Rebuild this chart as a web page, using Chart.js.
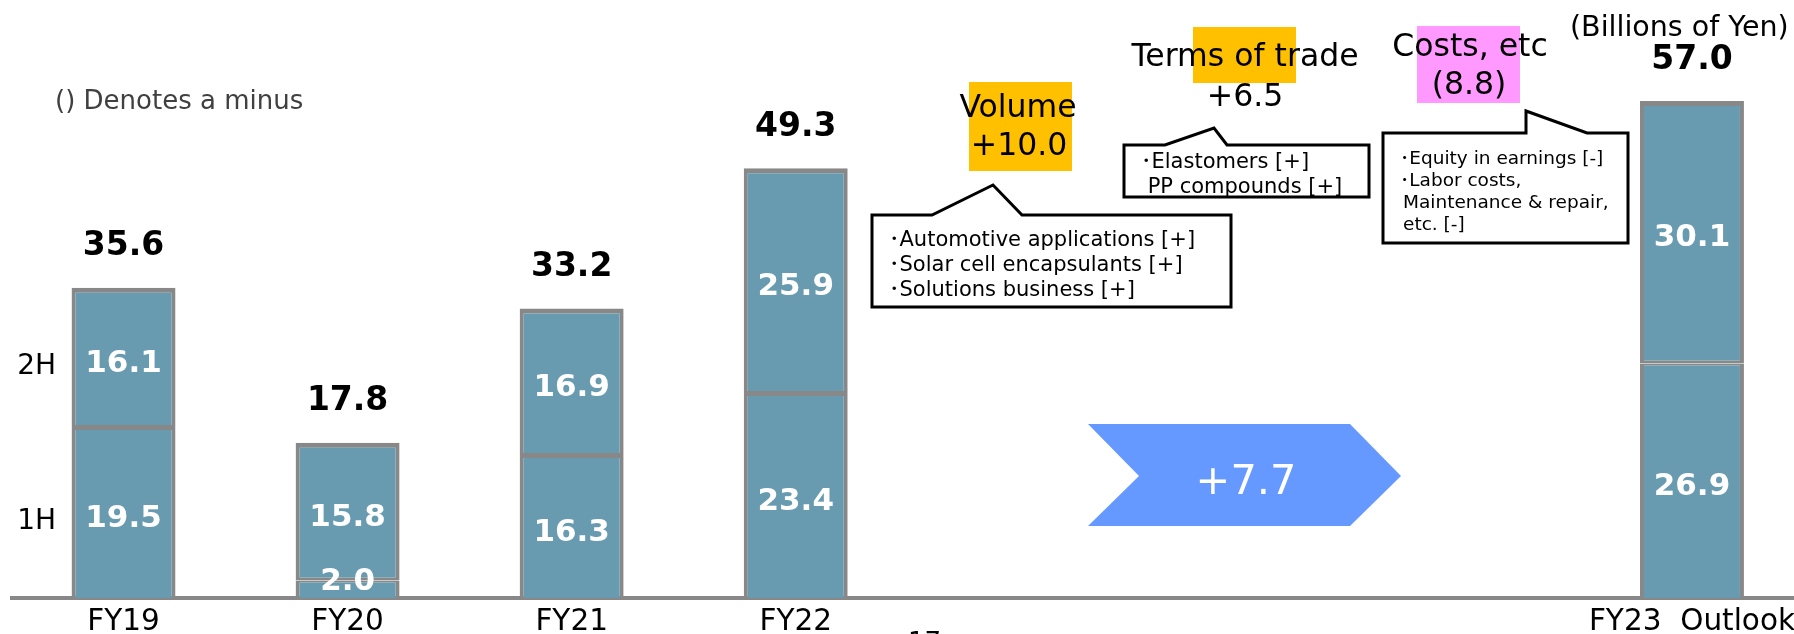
<!DOCTYPE html>
<html>
<head>
<meta charset="utf-8">
<script src="https://cdn.jsdelivr.net/npm/chart.js@4.4.0/dist/chart.umd.min.js"></script>
<style>
  html, body { margin: 0; padding: 0; background: #fff; overflow: hidden; }
  #wrap { width: 1804px; height: 634px; }
</style>
</head>
<body>
<div id="wrap"><canvas id="myChart" width="1804" height="634"></canvas></div>
<script>
// Data (billions of yen)
const categories = ['FY19', 'FY20', 'FY21', 'FY22', '', '', '', 'FY23  Outlook'];
const firstHalf = [19.5, 2.0, 16.3, 23.4, null, null, null, 26.9];
const secondHalf = [16.1, 15.8, 16.9, 25.9, null, null, null, 30.1];
const totals = [35.6, 17.8, 33.2, 49.3, null, null, null, 57.0];
const halfLabels = ['1H', '2H'];

// Bridge factors FY22 -> FY23
const bridgeNames = ['Volume', 'Terms of trade', 'Costs, etc'];
const bridgeValues = ['+10.0', '+6.5', '(8.8)'];
const bridgeTotal = '+7.7';
const volumeNotes = ['\uFF65Automotive applications [+]', '\uFF65Solar cell encapsulants [+]', '\uFF65Solutions business [+]'];
const termsNotes = ['\uFF65Elastomers [+]', ' PP compounds [+]'];
const costNotes = ['\uFF65Equity in earnings [-]', '\uFF65Labor costs,', 'Maintenance & repair,', 'etc. [-]'];

const FONT = '"DejaVu Sans", "Noto Sans CJK JP", sans-serif';
const barFill = '#689BB0';
const barEdge = '#888888';

const ctx = document.getElementById('myChart').getContext('2d');

// helper: callout box with a pointer on the top edge
function callout(c, box, pointer) {
    c.save();
    c.beginPath();
    c.moveTo(box.l, box.t);
    c.lineTo(pointer[0][0], box.t);
    c.lineTo(pointer[1][0], pointer[1][1]);
    c.lineTo(pointer[2][0], box.t);
    c.lineTo(box.r, box.t);
    c.lineTo(box.r, box.b);
    c.lineTo(box.l, box.b);
    c.closePath();
    c.fillStyle = '#fff';
    c.fill();
    c.lineWidth = 3;
    c.strokeStyle = '#000';
    c.lineJoin = 'miter';
    c.stroke();
    c.restore();
}

function textLines(c, lines, x, y0, step, size) {
    c.font = size + 'px ' + FONT;
    c.fillStyle = '#000';
    c.textAlign = 'left';
    c.textBaseline = 'alphabetic';
    lines.forEach((t, i) => c.fillText(t, x, y0 + i * step));
}

const labelPlugin = {
    id: 'labels',
    afterDatasetsDraw(chart) {
        const c = chart.ctx;
        const m1 = chart.getDatasetMeta(0);
        const m2 = chart.getDatasetMeta(1);
        c.save();
        c.textAlign = 'center';
        c.textBaseline = 'middle';
        categories.forEach((cat, i) => {
            if (firstHalf[i] == null) return;
            const b1 = m1.data[i], b2 = m2.data[i];
            c.font = 'bold 31px ' + FONT;
            c.fillStyle = '#fff';
            // 1H
            let y1 = (b1.y + b1.base) / 2 + 6;
            if (b1.base - b1.y < 40) y1 = b1.y + 1;
            c.fillText(firstHalf[i].toFixed(1), b1.x, y1);
            // 2H
            c.fillText(secondHalf[i].toFixed(1), b2.x, (b2.y + b2.base) / 2 + 6);
            // total
            c.font = 'bold 33px ' + FONT;
            c.fillStyle = '#000';
            c.fillText(totals[i].toFixed(1), b2.x, b2.y - 41);
        });
        // 1H / 2H row labels next to the first bar
        const f1 = m1.data[0], f2 = m2.data[0];
        c.font = '28px ' + FONT;
        c.fillStyle = '#000';
        c.textAlign = 'right';
        c.fillText(halfLabels[0], 56, (f1.y + f1.base) / 2 + 9);
        c.fillText(halfLabels[1], 56, (f2.y + f2.base) / 2 + 9);
        c.restore();
    },
    afterDraw(chart) {
        const c = chart.ctx;
        c.save();
        // note + unit
        c.font = '26px ' + FONT;
        c.fillStyle = '#404040';
        c.textAlign = 'left';
        c.textBaseline = 'alphabetic';
        c.fillText('() Denotes a minus', 55, 109);
        c.font = '28.5px ' + FONT;
        c.fillStyle = '#000';
        c.fillText('(Billions of Yen)', 1570, 36);

        // highlight boxes
        c.fillStyle = '#FFC000';
        c.fillRect(969, 82, 103, 89);
        c.fillRect(1193, 27, 103, 56);
        c.fillStyle = '#FF99FF';
        c.fillRect(1417, 26, 103, 77);

        c.font = '31.5px ' + FONT;
        c.fillStyle = '#000';
        c.textAlign = 'center';
        c.fillText(bridgeNames[0], 1018, 117);
        c.fillText(bridgeValues[0], 1019, 155);
        c.fillText(bridgeNames[1], 1245, 66);
        c.fillText(bridgeValues[1], 1245, 106);
        c.fillText(bridgeNames[2], 1470, 56);
        c.fillText(bridgeValues[2], 1469, 94);

        // callouts
        callout(c, { l: 872, t: 215, r: 1231, b: 307 }, [[932, 215], [993, 185], [1022, 215]]);
        textLines(c, volumeNotes, 889, 246, 25, 21);
        callout(c, { l: 1124, t: 145, r: 1369, b: 197 }, [[1165, 145], [1214, 128], [1227, 145]]);
        textLines(c, termsNotes, 1141, 168, 25, 21);
        callout(c, { l: 1383, t: 133, r: 1628, b: 243 }, [[1526, 133], [1526, 111], [1587, 133]]);
        textLines(c, costNotes.slice(0, 2), 1400, 164, 22, 18.5);
        textLines(c, costNotes.slice(2), 1403, 208, 22, 18.5);

        // chevron with overall change
        c.beginPath();
        c.moveTo(1088, 424);
        c.lineTo(1350, 424);
        c.lineTo(1401, 476);
        c.lineTo(1350, 526);
        c.lineTo(1088, 526);
        c.lineTo(1139, 476);
        c.closePath();
        c.fillStyle = '#6699FF';
        c.fill();
        c.font = '41.5px ' + FONT;
        c.fillStyle = '#fff';
        c.textAlign = 'center';
        c.fillText(bridgeTotal, 1246, 494);

        // page number, cut off at the bottom edge
        c.font = '26px ' + FONT;
        c.fillStyle = '#000';
        c.textAlign = 'left';
        c.fillText('17', 908, 651);
        c.restore();
    }
};

const chart = new Chart(ctx, {
    type: 'bar',
    data: {
        labels: categories,
        datasets: [
            {
                label: halfLabels[0],
                data: firstHalf,
                backgroundColor: barFill,
                borderColor: barEdge,
                borderWidth: { left: 4, right: 4, top: 2, bottom: 0 },
                borderSkipped: false
            },
            {
                label: halfLabels[1],
                data: secondHalf,
                backgroundColor: barFill,
                borderColor: barEdge,
                borderWidth: { left: 4, right: 4, top: 5, bottom: 3 },
                borderSkipped: false
            }
        ]
    },
    options: {
        responsive: false,
        animation: false,
        devicePixelRatio: 1,
        layout: { padding: { left: 11.5, right: 0, top: 0, bottom: 0 } },
        plugins: {
            legend: { display: false },
            tooltip: { enabled: false }
        },
        datasets: {
            bar: { categoryPercentage: 1, barPercentage: 0.464 }
        },
        scales: {
            x: {
                stacked: true,
                grid: { display: false, drawTicks: false },
                border: { display: true, color: '#888888', width: 4 },
                ticks: {
                    color: '#000',
                    font: { family: FONT, size: 29.5 },
                    padding: 7,
                    maxRotation: 0,
                    autoSkip: false
                },
                afterFit: s => { s.height = 36; }
            },
            y: {
                stacked: true,
                display: false,
                min: 0,
                max: 68.6
            }
        }
    },
    plugins: [labelPlugin]
});
</script>
</body>
</html>
